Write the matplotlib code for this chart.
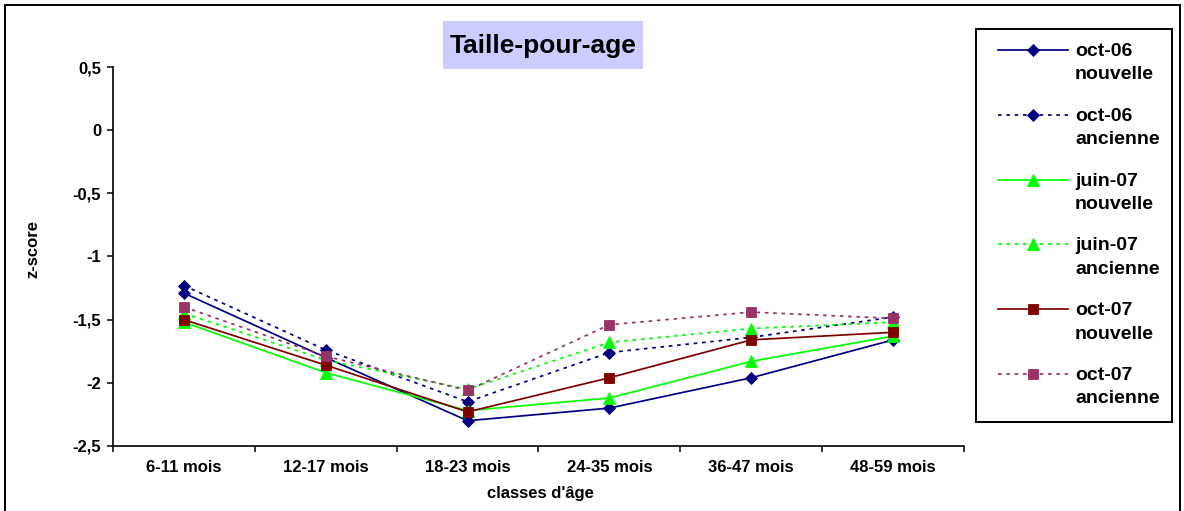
import matplotlib
matplotlib.use("Agg")
import matplotlib.pyplot as plt
from matplotlib.lines import Line2D
from matplotlib.patches import Rectangle
from matplotlib.ticker import FixedLocator, FixedFormatter, NullFormatter

# ---- data -------------------------------------------------------------
categories = ["6-11 mois", "12-17 mois", "18-23 mois",
              "24-35 mois", "36-47 mois", "48-59 mois"]

oct06_nouvelle = [-1.29, -1.80, -2.30, -2.20, -1.96, -1.66]
oct06_ancienne = [-1.23, -1.74, -2.15, -1.76, -1.64, -1.48]
juin07_nouvelle = [-1.52, -1.92, -2.22, -2.12, -1.83, -1.63]
juin07_ancienne = [-1.45, -1.82, -2.05, -1.68, -1.57, -1.52]
oct07_nouvelle = [-1.50, -1.86, -2.23, -1.96, -1.66, -1.60]
oct07_ancienne = [-1.40, -1.79, -2.06, -1.54, -1.44, -1.49]

series_labels = [("oct-06", "nouvelle"), ("oct-06", "ancienne"),
                 ("juin-07", "nouvelle"), ("juin-07", "ancienne"),
                 ("oct-07", "nouvelle"), ("oct-07", "ancienne")]

ytick_values = [0.5, 0, -0.5, -1, -1.5, -2, -2.5]
ytick_labels = ["0,5", "0", "-0,5", "-1", "-1,5", "-2", "-2,5"]

title_text = "Taille-pour-age"
xlabel_text = "classes d'âge"
ylabel_text = "z-score"

# ---- styles -----------------------------------------------------------
NAVY, GREEN, MAROON, PLUM = "#000080", "#00FF00", "#800000", "#993366"
DOTS = (0, (2.6, 3.4))
styles = [
    dict(color=NAVY, ls="-", marker="D", ms=5.8),
    dict(color=NAVY, ls=DOTS, marker="D", ms=5.8),
    dict(color=GREEN, ls="-", marker="^", ms=8.2),
    dict(color=GREEN, ls=DOTS, marker="^", ms=8.2),
    dict(color=MAROON, ls="-", marker="s", ms=7.0),
    dict(color=PLUM, ls=DOTS, marker="s", ms=7.0),
]
series = [oct06_nouvelle, oct06_ancienne, juin07_nouvelle,
          juin07_ancienne, oct07_nouvelle, oct07_ancienne]

plt.rcParams["font.family"] = ["Liberation Sans", "DejaVu Sans"]
plt.rcParams["font.weight"] = "bold"
plt.rcParams["lines.scale_dashes"] = False

TICK_FS = 12
LEGEND_FS = 14

W, H = 1184, 511
fig = plt.figure(figsize=(W / 100, H / 100), dpi=100)
fig.patch.set_facecolor("white")


def fx(x):
    return x / W


def fy(y):
    return 1 - y / H


# plot area in pixel terms: x 113..964, y 67..446
ax = fig.add_axes([fx(113), fy(446), (964 - 113) / W, (446 - 67) / H])
ax.set_facecolor("white")

xpos = list(range(len(categories)))
for vals, st in zip(series, styles):
    ax.plot(xpos, vals, color=st["color"], linestyle=st["ls"], lw=1.25,
            marker=st["marker"], markersize=st["ms"],
            markerfacecolor=st["color"], markeredgecolor=st["color"],
            markeredgewidth=0.6)

ax.set_xlim(-0.5, len(categories) - 0.5)
ax.set_ylim(-2.5, 0.5)

for side in ("top", "right"):
    ax.spines[side].set_visible(False)
for side in ("left", "bottom"):
    ax.spines[side].set_linewidth(1.2)
    ax.spines[side].set_color("black")

ax.yaxis.set_major_locator(FixedLocator(ytick_values))
ax.yaxis.set_major_formatter(FixedFormatter(ytick_labels))
ax.tick_params(axis="y", which="major", direction="out", length=4.5,
               width=1.1, pad=4, labelsize=TICK_FS)

ax.xaxis.set_major_locator(FixedLocator(xpos))
ax.xaxis.set_major_formatter(FixedFormatter(categories))
ax.xaxis.set_minor_locator(FixedLocator([i - 0.5 for i in range(len(categories) + 1)]))
ax.xaxis.set_minor_formatter(NullFormatter())
ax.tick_params(axis="x", which="major", length=0, pad=10, labelsize=TICK_FS)
ax.tick_params(axis="x", which="minor", direction="out", length=4, width=1.1)
for lab in ax.get_xticklabels() + ax.get_yticklabels():
    lab.set_fontweight("bold")

ax.set_ylabel(ylabel_text, fontsize=TICK_FS, fontweight="bold")
ax.yaxis.set_label_coords((40 - 113) / (964 - 113), 0.52)
fig.text(fx(540), fy(493), xlabel_text, ha="center", va="center",
         fontsize=TICK_FS, fontweight="bold")

# title with its shaded box
fig.add_artist(Rectangle((fx(443), fy(69)), (643 - 443) / W, (69 - 21) / H,
                         transform=fig.transFigure, facecolor="#CCCCFF",
                         edgecolor="none"))
fig.text(fx(543), fy(46), title_text, ha="center", va="center",
         fontsize=19, fontweight="bold")

# outer frame of the chart
fig.add_artist(Rectangle((fx(5), fy(530)), (1180 - 5) / W, (530 - 5) / H,
                         transform=fig.transFigure, facecolor="none",
                         edgecolor="black", lw=1.4))

# legend box
fig.add_artist(Rectangle((fx(976), fy(422)), (1172 - 976) / W, (422 - 29) / H,
                         transform=fig.transFigure, facecolor="white",
                         edgecolor="black", lw=1.4))
for i, ((l1, l2), st) in enumerate(zip(series_labels, styles)):
    yh = 50 + 64.8 * i
    fig.add_artist(Line2D([fx(998), fx(1068)], [fy(yh), fy(yh)],
                          transform=fig.transFigure, color=st["color"],
                          linestyle=st["ls"], lw=1.25))
    fig.add_artist(Line2D([fx(1033)], [fy(yh)], transform=fig.transFigure,
                          marker=st["marker"], markersize=st["ms"],
                          color=st["color"], markeredgewidth=0.6,
                          linestyle="none"))
    base = 56 + 64.8 * i
    fig.text(fx(1075), fy(base), l1, va="baseline", ha="left",
             fontsize=LEGEND_FS, fontweight="bold")
    fig.text(fx(1075), fy(base + 23.3), l2, va="baseline", ha="left",
             fontsize=LEGEND_FS, fontweight="bold")

fig.savefig("out.png", dpi=100, facecolor="white")
